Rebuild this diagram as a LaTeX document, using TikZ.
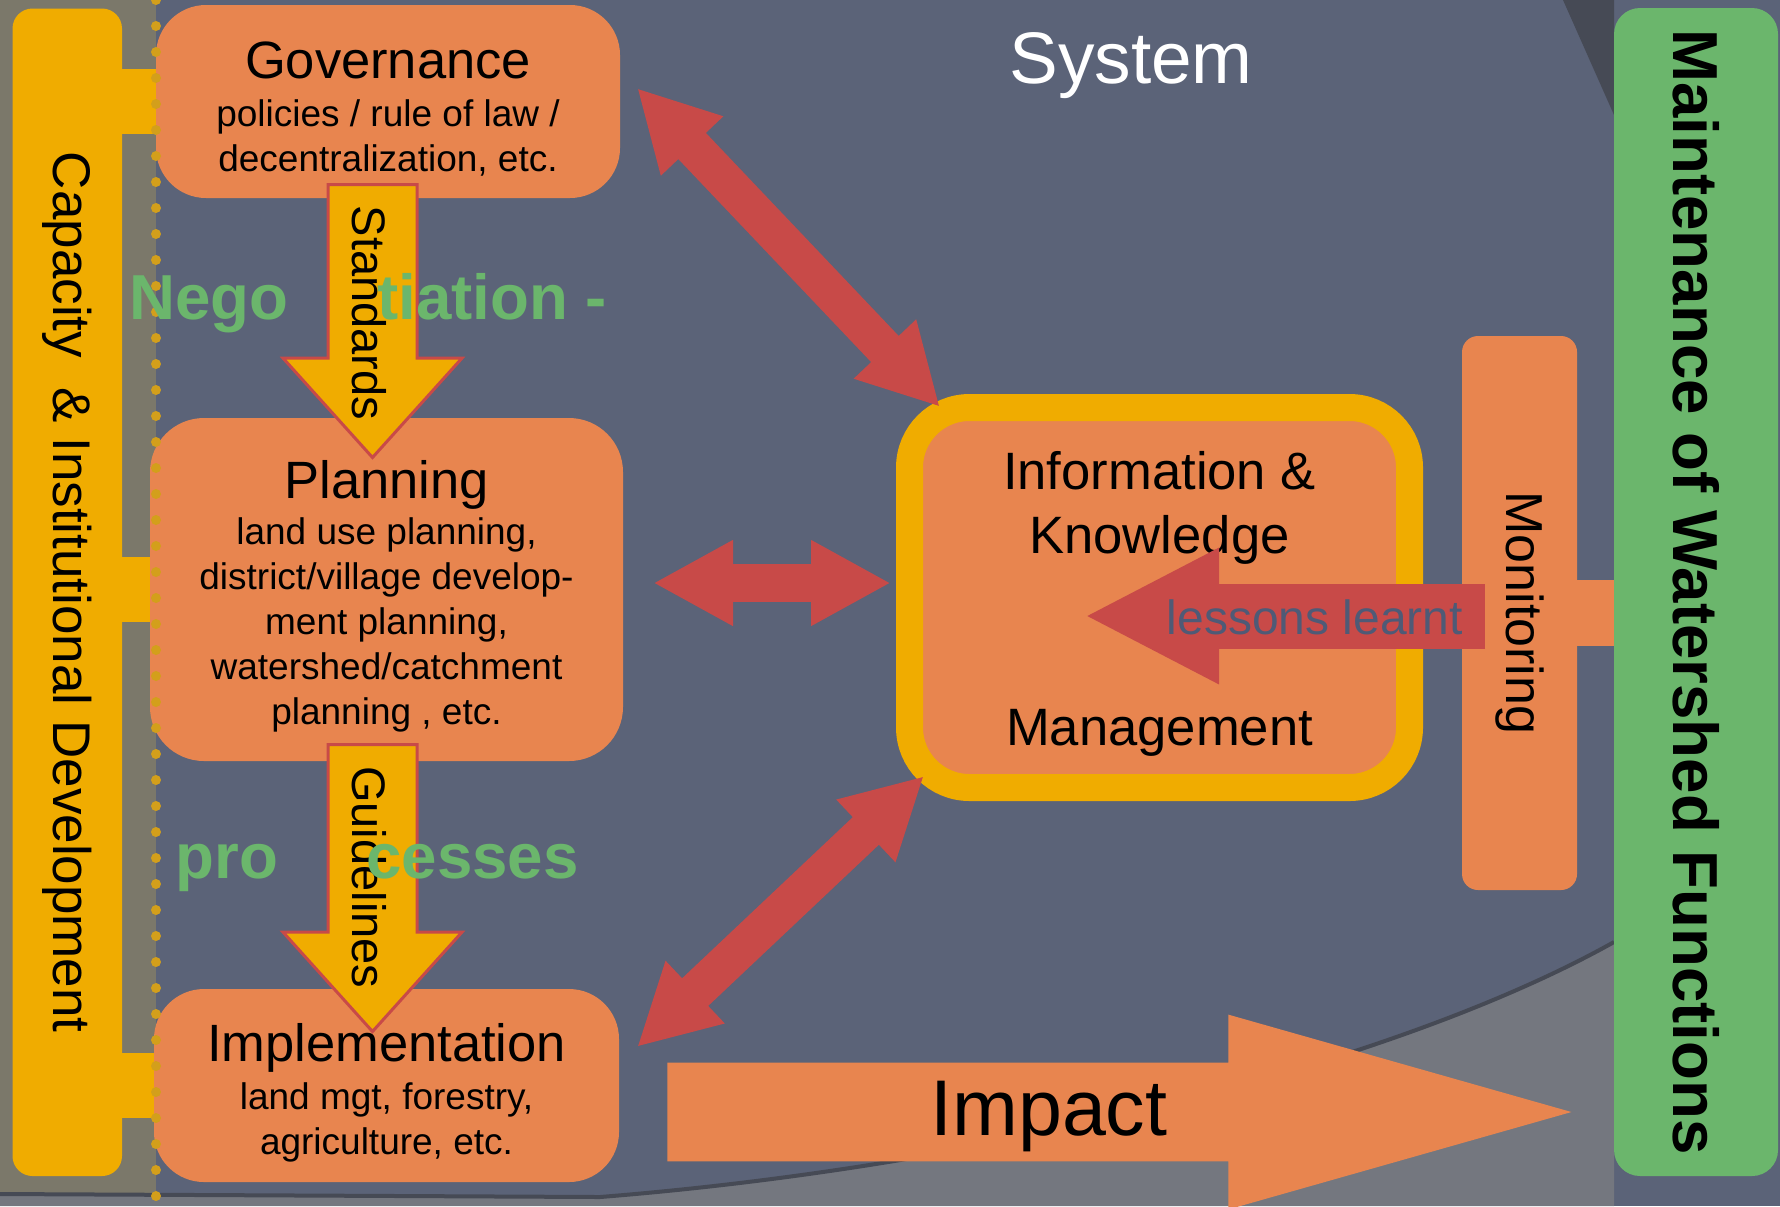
\documentclass[tikz,border=0pt]{standalone}
\usepackage{fontspec}
\setmainfont{Liberation Sans}
\usepackage{graphicx}
\usetikzlibrary{arrows.meta,shapes.arrows}
\definecolor{fond}{HTML}{5B6378}
\definecolor{bande}{HTML}{7B786A}
\definecolor{gris}{HTML}{74777F}
\definecolor{sombre}{HTML}{464A55}
\definecolor{orangeb}{HTML}{E8854F}
\definecolor{jaune}{HTML}{F0AC00}
\definecolor{rouge}{HTML}{C84A48}
\definecolor{vert}{HTML}{6BB66C}
\definecolor{ardoise}{HTML}{4F5A76}
\newcommand\grand[1]{{\fontsize{26.25}{30}\selectfont\rule{0pt}{26pt}#1}}

\begin{document}
\begin{tikzpicture}[x=0.5pt, y=-0.5pt]
\tikzstyle{boite}=[fill=orangeb, rounded corners=25pt, align=center, inner sep=0pt,
                   font=\fontsize{18.5}{22.5}\selectfont]
\tikzstyle{barre}=[inner sep=0pt, rounded corners=10pt]
\tikzstyle{onglet}=[line width=32.5pt]
\tikzstyle{lien}=[rouge, line width=19pt, <->, >={Triangle[width=40pt,length=40pt]}]
% fleches jaunes a bord rouge
\tikzstyle{norme}=[single arrow, rotate=-90, draw=rouge, line width=1.5pt, fill=jaune,
                   single arrow head extend=22.5pt, single arrow tip angle=84,
                   single arrow head indent=0pt, inner sep=0pt, text height=31.75pt,
                   text depth=11.25pt, font=\fontsize{23.5}{28}\selectfont]
\tikzstyle{negoc}=[text=vert, anchor=base west, inner sep=0pt,
                   font=\bfseries\fontsize{31.8}{36}\selectfont]

\useasboundingbox (0,0) rectangle (1780,1206);
\fill[fond] (0,0) rectangle (1780,1206);
\fill[bande] (0,0) rectangle (156,1206);
\fill[sombre] (1563,0) -- (1614,115) -- (1614,0) -- cycle;
\fill[gris] (0,1194) -- (600,1197) .. controls (1000,1165) and (1400,1062) .. (1614,942)
    -- (1614,1206) -- (0,1206) -- cycle;
\draw[sombre, line width=2pt] (0,1194) -- (600,1197) .. controls (1000,1165) and (1400,1062) .. (1614,942);

\node[barre, fill=jaune, minimum width=54.75pt, minimum height=583.75pt] (capa) at (67.25,592.25)
    {\fontsize{26.5}{30}\selectfont\rotatebox{-90}{Capacity~~\& Institutional Development}};
\node[barre, fill=vert, rounded corners=13pt, minimum width=82pt, minimum height=584pt] (maint) at (1696,592)
    {\bfseries\fontsize{31.8}{36}\selectfont\rotatebox{-90}{Maintenance of Watershed Functions}};

\node[boite, minimum width=232pt, minimum height=96.5pt] (gov) at (388,101.5)
    {\grand{Governance}\\[1.5pt] policies / rule of law /\\ decentralization, etc.};
\node[boite, rounded corners=27pt, minimum width=236.5pt, minimum height=171.5pt] (pl) at (386.5,589.5)
    {\grand{Planning}\\[0.5pt] land use planning,\\ district/village develop-\\ ment planning,\\
     watershed/catchment\\ planning , etc.};
\node[boite, minimum width=232.5pt, minimum height=96.5pt] (impl) at (386.5,1085.5)
    {\grand{Implementation}\\[1.5pt] land mgt, forestry,\\ agriculture, etc.};

\node[boite, draw=jaune, line width=13.5pt, rounded corners=30pt, minimum width=250pt,
      minimum height=190pt, font=\fontsize{26.3}{32}\selectfont] (info) at (1159.5,597.5)
    {\rule{0pt}{25pt}Information \&\\ Knowledge\\[64pt] Management};
\node[boite, rounded corners=8pt, minimum width=57.5pt, minimum height=277pt] (mon) at (1519.5,613)
    {\fontsize{26}{30}\selectfont\rotatebox{-90}{Monitoring}};

\draw[onglet, jaune] (capa.east |- gov.west) -- (gov.west);
\draw[onglet, jaune] (capa.east |- pl.west) -- (pl.west);
\draw[onglet, jaune] (capa.east |- impl.west) -- (impl.west);
\draw[onglet, orangeb, line width=33pt] (mon.east) -- (mon.east -| maint.west);

\draw[jaune!75!bande, line width=5pt, line cap=round, dash pattern=on 0pt off 13pt] (156,0) -- (156,1206);

\coordinate (g1) at (637,88);
\coordinate (k1) at (940,407);
\coordinate (p1) at (653,583);
\coordinate (k2) at (891,583);
\coordinate (m1) at (637,1047);
\coordinate (k3) at (924,776);
\draw[lien] (g1) -- (k1);
\draw[lien] (p1) -- (k2);
\draw[lien] (m1) -- (k3);

\node[norme, anchor=tail, minimum height=136.5pt] (std) at (372.5,183)
    {\makebox[0pt]{\hspace*{16.5pt}Standards}};
\node[norme, anchor=tail, minimum height=143.5pt] (gui) at (372.5,743)
    {\makebox[0pt]{\hspace*{14pt}Guidelines}};

\node[negoc] (nego) at (129,319) {Nego};
\node[negoc] (tiat) at (377,319) {tiation -};
\node[negoc] (pro) at (175,878) {pro};
\node[negoc] (cess) at (366,878) {cesses};

\node[single arrow, fill=orangeb, anchor=tail, minimum height=452pt, inner sep=0pt,
      text height=36pt, text depth=13pt, single arrow head extend=24pt,
      single arrow tip angle=31.7, single arrow head indent=0pt,
      font=\fontsize{39.5}{44}\selectfont] (imp) at (667,1112)
    {\makebox[0pt]{\hspace*{16.5pt}Impact}};

\coordinate (l1) at (1485,616);
\coordinate (l2) at (1084,616);
\draw[rouge, line width=32.5pt, -{Triangle[width=63pt,length=67.5pt]}] (l1) -- (l2)
    node[pos=0.424, anchor=base, yshift=-9.25pt, text=ardoise, font=\fontsize{24}{28}\selectfont] (lec) {lessons learnt};

\node[anchor=base, text=white, font=\fontsize{36.5}{40}\selectfont] (sys) at (1131,83) {System};
\end{tikzpicture}
\end{document}
